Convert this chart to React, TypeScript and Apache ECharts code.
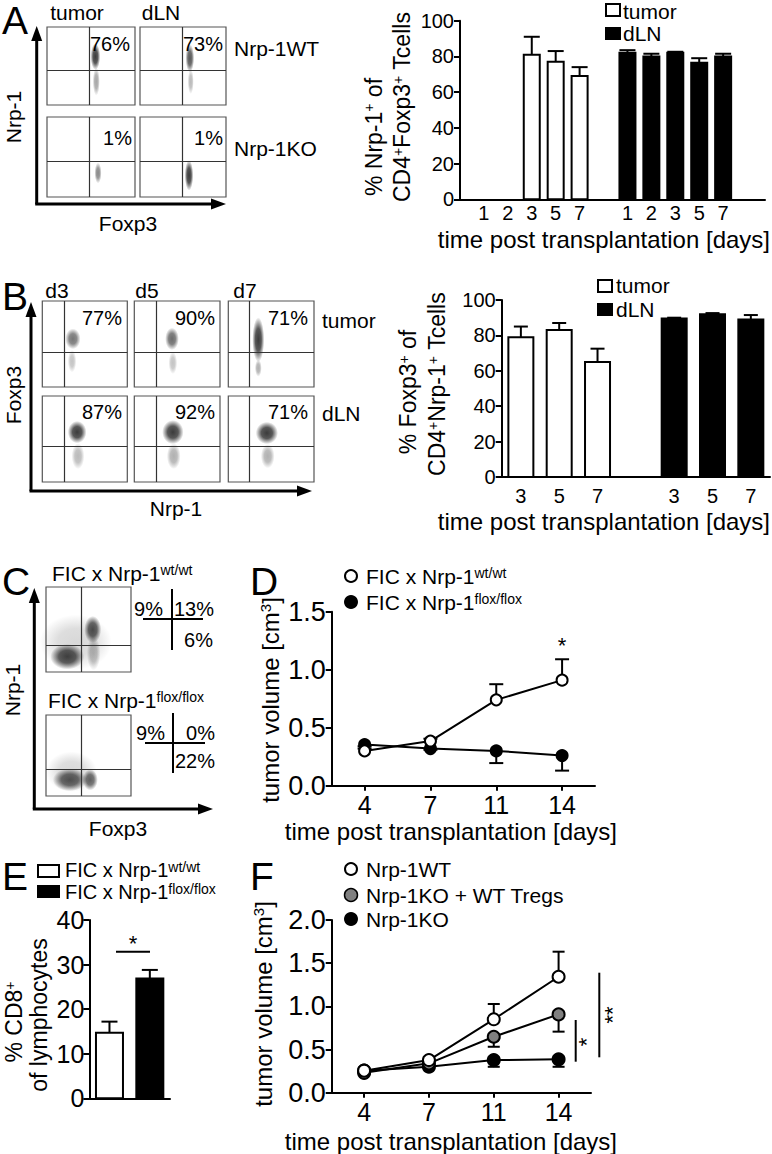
import React, { useEffect, useRef } from 'react';
import * as echarts from 'echarts';

const FONT = '"Liberation Sans", Arial, Helvetica, sans-serif';

// ---------- Panel A data ----------
const A_days = ['1', '2', '3', '5', '7'];
const A_tumor = [null, null, 81, 77, 69];
const A_tumorSem = [null, null, 10, 6, 5];
const A_dLN = [82, 80, 82, 76.5, 80];
const A_dLNSem = [1.5, 1.5, 0.6, 2.5, 1.5];
const A_pct = ['76%', '73%', '1%', '1%'];
const A_gates = [[48, 44], [49, 44], [48, 45], [49, 45]];
// clusters: [x, y, width, height, density] in plot units (0-100)
const A_clusters = [
  [[55, 62, 11, 34, 1.0], [56, 30, 8, 36, 0.45]],
  [[58, 60, 10, 36, 0.85], [59, 30, 7, 32, 0.35]],
  [[58, 30, 8, 26, 0.6]],
  [[57, 27, 10, 38, 1.0]],
];

// ---------- Panel B data ----------
const B_days = ['3', '5', '7'];
const B_tumor = [79, 83, 65];
const B_tumorSem = [6, 4, 7.5];
const B_dLN = [89.5, 92, 89];
const B_dLNSem = [0.5, 0.6, 2.5];
const B_pct = ['77%', '90%', '71%', '87%', '92%', '71%'];
const B_gates = [[26, 40], [26, 40], [25, 40], [26, 41], [26, 41], [25, 41]];
const B_clusters = [
  [[36, 56, 18, 24, 0.7], [35, 30, 10, 26, 0.3]],
  [[44, 56, 16, 26, 0.75], [45, 28, 10, 26, 0.3]],
  [[35, 55, 14, 52, 1.0], [35, 22, 8, 20, 0.4]],
  [[41, 58, 22, 26, 1.0], [42, 30, 15, 30, 0.35]],
  [[45, 58, 25, 28, 1.0], [46, 30, 16, 30, 0.4]],
  [[45, 57, 26, 26, 1.0], [46, 30, 16, 28, 0.4]],
];

// ---------- Panel C data ----------
const C_gates = [[41, 32], [41, 33]];
const C_clusters = [
  [[35, 35, 85, 65, 0.2], [25, 18, 40, 30, 0.95], [55, 50, 20, 32, 0.9], [56, 22, 16, 40, 0.35]],
  [[30, 30, 60, 50, 0.2], [28, 20, 40, 28, 0.85], [52, 20, 18, 26, 0.8]],
];
const C_quadWT = ['9%', '13%', '6%'];
const C_quadFlox = ['9%', '0%', '22%'];

// ---------- Panel D data ----------
const D_days = ['4', '7', '11', '14'];
const D_wt = [0.3, 0.385, 0.74, 0.91];
const D_wtSem = [0.02, 0.02, 0.135, 0.18];
const D_flox = [0.355, 0.32, 0.3, 0.26];
const D_floxSem = [0.015, 0.01, 0.105, 0.13];

// ---------- Panel E data ----------
const E_groups = ['FIC x Nrp-1 wt/wt', 'FIC x Nrp-1 flox/flox'];
const E_values = [14.7, 26.9];
const E_sem = [2.5, 1.9];

// ---------- Panel F data ----------
const F_days = ['4', '7', '11', '14'];
const F_wt = [0.255, 0.378, 0.85, 1.343];
const F_wtSem = [0.02, 0.03, 0.177, 0.29];
const F_koT = [0.23, 0.34, 0.648, 0.907];
const F_koTSem = [0.02, 0.02, 0.116, 0.2];
const F_ko = [0.255, 0.3, 0.378, 0.386];
const F_koSem = [0.01, 0.01, 0.078, 0.086];

// ---------- layout ----------
const A_boxes = [[47, 27, 88, 78], [140, 27, 86, 78], [47, 117, 88, 80], [140, 117, 86, 80]];
const B_boxes = [
  [42.3, 301, 85, 86], [134.3, 301, 85.7, 86], [228.3, 301, 85.7, 86],
  [42.3, 396, 85, 86], [134.3, 396, 85.7, 86], [228.3, 396, 85.7, 86],
];
const C_boxes = [[46, 587, 85, 85], [46, 715, 85, 81]];

const BLACK = '#000';
const axLine = { show: true, onZero: false, lineStyle: { color: BLACK, width: 2 } };
const axTick = { show: true, length: 6, inside: false, lineStyle: { color: BLACK, width: 2 } };

function radial(a: number) {
  return {
    type: 'radial', x: 0.5, y: 0.5, r: 0.5,
    colorStops: [
      { offset: 0, color: `rgba(10,10,10,${a})` },
      { offset: 0.5, color: `rgba(10,10,10,${a * 0.85})` },
      { offset: 1, color: 'rgba(10,10,10,0)' },
    ],
  };
}

function txt(x: number, y: number, text: string, o: any = {}) {
  const size = o.size ?? 21;
  const align = o.align ?? 'center';
  const valign = o.valign ?? 'middle';
  const style: any = {
    text, fill: BLACK, fontSize: size, fontFamily: FONT,
    textAlign: align, align, textVerticalAlign: valign, verticalAlign: valign,
  };
  if (o.rich) {
    const sub = o.sup ?? Math.round(size * 0.62);
    style.rich = {
      n: { fontSize: size, fontFamily: FONT, fill: BLACK },
      s: { fontSize: sub, fontFamily: FONT, fill: BLACK, verticalAlign: 'top' },
    };
  }
  return { type: 'text', x, y, rotation: o.rot ? Math.PI / 2 : 0, silent: true, z: 20, style };
}

function gline(x1: number, y1: number, x2: number, y2: number, w = 2) {
  return { type: 'line', silent: true, z: 20, shape: { x1, y1, x2, y2 }, style: { stroke: BLACK, lineWidth: w } };
}

function arrowV(x: number, yBottom: number, yTip: number) {
  return [
    gline(x, yBottom, x, yTip + 12, 3),
    { type: 'polygon', silent: true, z: 20, shape: { points: [[x, yTip], [x - 5.5, yTip + 15], [x + 5.5, yTip + 15]] }, style: { fill: BLACK } },
  ];
}
function arrowH(y: number, xLeft: number, xTip: number) {
  return [
    gline(xLeft - 1.5, y, xTip - 12, y, 3),
    { type: 'polygon', silent: true, z: 20, shape: { points: [[xTip, y], [xTip - 15, y - 5.5], [xTip - 15, y + 5.5]] }, style: { fill: BLACK } },
  ];
}

function barSeries(gi: number, data: any[], fill: string, w: number, cap: number) {
  return {
    type: 'custom', xAxisIndex: gi, yAxisIndex: gi, data, silent: true, z: 3,
    renderItem: (_p: any, api: any) => {
      const x = api.value(0), v = api.value(1), e = api.value(2);
      const base = api.coord([x, 0]);
      const top = api.coord([x, v]);
      const et = api.coord([x, v + e]);
      return {
        type: 'group',
        children: [
          { type: 'line', shape: { x1: top[0], y1: top[1], x2: et[0], y2: et[1] }, style: { stroke: BLACK, lineWidth: 2 } },
          { type: 'line', shape: { x1: et[0] - cap, y1: et[1], x2: et[0] + cap, y2: et[1] }, style: { stroke: BLACK, lineWidth: 2 } },
          { type: 'rect', shape: { x: base[0] - w / 2, y: top[1], width: w, height: base[1] - top[1] }, style: { fill, stroke: BLACK, lineWidth: 2 } },
        ],
      };
    },
  };
}

function errSeries(gi: number, vals: number[], sems: number[], dir: number, cap: number) {
  return {
    type: 'custom', xAxisIndex: gi, yAxisIndex: gi, silent: true, z: 2,
    data: vals.map((v, i) => [i, v, sems[i]]),
    renderItem: (_p: any, api: any) => {
      const x = api.value(0), v = api.value(1), e = api.value(2);
      const p0 = api.coord([x, v]);
      const p1 = api.coord([x, v + dir * e]);
      return {
        type: 'group',
        children: [
          { type: 'line', shape: { x1: p0[0], y1: p0[1], x2: p1[0], y2: p1[1] }, style: { stroke: BLACK, lineWidth: 2 } },
          { type: 'line', shape: { x1: p1[0] - cap, y1: p1[1], x2: p1[0] + cap, y2: p1[1] }, style: { stroke: BLACK, lineWidth: 2 } },
        ],
      };
    },
  };
}

function lineSeries(gi: number, vals: number[], fill: string, size: number) {
  return {
    type: 'line', xAxisIndex: gi, yAxisIndex: gi, data: vals, silent: true, z: 4,
    symbol: 'circle', symbolSize: size, showSymbol: true,
    itemStyle: { color: fill, borderColor: BLACK, borderWidth: 2, opacity: 1 },
    lineStyle: { color: BLACK, width: 2 },
  };
}

export default function App() {
  const ref = useRef<HTMLDivElement>(null);
  useEffect(() => {
    if (!ref.current) return;
    const chart = echarts.init(ref.current, undefined, { renderer: 'svg', width: 772, height: 1154 });

    const grids: any[] = [];
    const xAxes: any[] = [];
    const yAxes: any[] = [];
    const series: any[] = [];

    const flowBoxes = [...A_boxes, ...B_boxes, ...C_boxes];
    const flowClusters = [...A_clusters, ...B_clusters, ...C_clusters];
    const flowGates = [...A_gates, ...B_gates, ...C_gates];
    flowBoxes.forEach((b, i) => {
      grids.push({ left: b[0], top: b[1], width: b[2], height: b[3], show: true, borderColor: '#555', borderWidth: 1.2, backgroundColor: 'rgba(0,0,0,0)' });
      xAxes.push({ gridIndex: i, type: 'value', min: 0, max: 100, show: false });
      yAxes.push({ gridIndex: i, type: 'value', min: 0, max: 100, show: false });
      series.push({
        type: 'scatter', xAxisIndex: i, yAxisIndex: i, silent: true, symbol: 'circle',
        data: flowClusters[i].map((c) => ({
          value: [c[0], c[1]],
          symbolSize: [c[2] * b[2] / 100, c[3] * b[3] / 100],
          itemStyle: { color: radial(c[4]) },
        })),
        markLine: {
          silent: true, symbol: 'none', label: { show: false },
          lineStyle: { color: '#333', width: 1.2, type: 'solid' },
          data: [{ xAxis: flowGates[i][0] }, { yAxis: flowGates[i][1] }],
        },
      });
    });

    // Panel A bar chart
    const gA = flowBoxes.length;
    const A_slotLabel: Record<number, string> = {};
    A_days.forEach((d, i) => { A_slotLabel[i + 1] = d; A_slotLabel[i + 7] = d; });
    grids.push({ left: 460, top: 20.7, width: 305, height: 178.6 });
    xAxes.push({
      gridIndex: gA, type: 'value', min: 0, max: 12.75, interval: 1, axisLine: axLine, axisTick: { show: false },
      splitLine: { show: false },
      axisLabel: { fontSize: 20, color: BLACK, fontFamily: FONT, margin: 4, showMaxLabel: false, showMinLabel: true, formatter: (v: number) => A_slotLabel[v] ?? '' },
    });
    yAxes.push({
      gridIndex: gA, type: 'value', min: 0, max: 100, interval: 20, axisLine: axLine, axisTick: axTick,
      splitLine: { show: false }, axisLabel: { fontSize: 20, color: BLACK, fontFamily: FONT, margin: 6 },
    });
    series.push(barSeries(gA, A_days.map((_, i) => [i + 1, A_tumor[i], A_tumorSem[i]]).filter((r) => r[1] != null), '#fff', 16, 8));
    series.push(barSeries(gA, A_days.map((_, i) => [i + 7, A_dLN[i], A_dLNSem[i]]), '#000', 16, 8));

    // Panel B bar chart
    const gB = gA + 1;
    const B_cats = [...B_days, '', ...B_days];
    grids.push({ left: 501.7, top: 300, width: 268.3, height: 177 });
    xAxes.push({
      gridIndex: gB, type: 'category', data: B_cats, axisLine: axLine, axisTick: { show: false },
      axisLabel: { fontSize: 20, color: BLACK, fontFamily: FONT, margin: 9, interval: 0 },
    });
    yAxes.push({
      gridIndex: gB, type: 'value', min: 0, max: 100, interval: 20, axisLine: axLine, axisTick: axTick,
      splitLine: { show: false }, axisLabel: { fontSize: 20, color: BLACK, fontFamily: FONT, margin: 6 },
    });
    series.push(barSeries(gB, B_days.map((_, i) => [i, B_tumor[i], B_tumorSem[i]]), '#fff', 25, 7));
    series.push(barSeries(gB, B_days.map((_, i) => [i + 4, B_dLN[i], B_dLNSem[i]]), '#000', 25, 7));

    // Panel D
    const gD = gB + 1;
    grids.push({ left: 331.7, top: 611.7, width: 263.3, height: 174 });
    xAxes.push({
      gridIndex: gD, type: 'category', data: D_days, axisLine: axLine,
      axisTick: { show: true, alignWithLabel: true, length: 5, lineStyle: { color: BLACK, width: 2 } },
      axisLabel: { fontSize: 25, color: BLACK, fontFamily: FONT, margin: 7 },
    });
    yAxes.push({
      gridIndex: gD, type: 'value', min: 0, max: 1.5, interval: 0.5, axisLine: axLine, axisTick: axTick,
      splitLine: { show: false }, axisLabel: { fontSize: 27, color: BLACK, fontFamily: FONT, margin: 6, formatter: (v: number) => v.toFixed(1) },
    });
    series.push(errSeries(gD, D_wt, D_wtSem, 1, 7));
    series.push(errSeries(gD, D_flox, D_floxSem, -1, 7));
    series.push(lineSeries(gD, D_flox, '#000', 11));
    series.push(lineSeries(gD, D_wt, '#fff', 11));

    // Panel E
    const gE = gD + 1;
    grids.push({ left: 89.3, top: 920, width: 80.7, height: 178.3 });
    xAxes.push({ gridIndex: gE, type: 'category', data: E_groups, axisLine: axLine, axisTick: { show: false }, axisLabel: { show: false } });
    yAxes.push({
      gridIndex: gE, type: 'value', min: 0, max: 40, interval: 10, axisLine: axLine, axisTick: axTick,
      splitLine: { show: false }, axisLabel: { fontSize: 25, color: BLACK, fontFamily: FONT, margin: 5 },
    });
    series.push(barSeries(gE, [[0, E_values[0], E_sem[0]]], '#fff', 27, 8));
    series.push(barSeries(gE, [[1, E_values[1], E_sem[1]]], '#000', 27, 8));

    // Panel F
    const gF = gE + 1;
    grids.push({ left: 331.7, top: 920, width: 259.3, height: 172.7 });
    xAxes.push({
      gridIndex: gF, type: 'category', data: F_days, axisLine: axLine,
      axisTick: { show: true, alignWithLabel: true, length: 5, lineStyle: { color: BLACK, width: 2 } },
      axisLabel: { fontSize: 25, color: BLACK, fontFamily: FONT, margin: 7 },
    });
    yAxes.push({
      gridIndex: gF, type: 'value', min: 0, max: 2, interval: 0.5, axisLine: axLine, axisTick: axTick,
      splitLine: { show: false }, axisLabel: { fontSize: 27, color: BLACK, fontFamily: FONT, margin: 6, formatter: (v: number) => v.toFixed(1) },
    });
    series.push(errSeries(gF, F_wt, F_wtSem, 1, 6));
    series.push(errSeries(gF, F_koT, F_koTSem, -1, 6));
    series.push(errSeries(gF, F_ko, F_koSem, -1, 6));
    series.push(lineSeries(gF, F_ko, '#000', 12));
    series.push(lineSeries(gF, F_koT, '#808080', 12));
    series.push(lineSeries(gF, F_wt, '#fff', 12));

    // ---------- graphic texts ----------
    const g: any[] = [];
    // panel letters
    [['A', 2, 20], ['B', 2, 296], ['C', 2, 581], ['D', 250, 581], ['E', 2, 876], ['F', 250, 876]].forEach((l: any) =>
      g.push(txt(l[1], l[2], l[0], { size: 39, align: 'left' })));

    // Panel A flow
    g.push(txt(77, 12, 'tumor'), txt(161, 12, 'dLN'));
    const A_pctPos = [[130, 44], [223, 44], [132, 138], [223, 138]];
    A_pct.forEach((p, i) => g.push(txt(A_pctPos[i][0], A_pctPos[i][1], p, { size: 20, align: 'right' })));
    g.push(txt(234, 48, 'Nrp-1WT', { align: 'left' }), txt(234, 148, 'Nrp-1KO', { align: 'left' }));
    g.push(txt(13, 117, 'Nrp-1', { rot: true }), txt(128, 223, 'Foxp3'));
    g.push(...arrowV(36.7, 204, 26), ...arrowH(204, 36.7, 226));

    // Panel A bar texts
    g.push(txt(373.5, 137, '{n|% Nrp-1}{s|+}{n| of}', { rich: true, rot: true, size: 23 }));
    g.push(txt(402, 107, '{n|CD4}{s|+}{n|Foxp3}{s|+}{n| Tcells}', { rich: true, rot: true, size: 23 }));
    g.push(txt(770, 239, 'time post transplantation [days]', { size: 24, align: 'right' }));
    g.push({ type: 'rect', silent: true, z: 20, shape: { x: 606, y: 4, width: 14, height: 12 }, style: { fill: '#fff', stroke: BLACK, lineWidth: 2 } });
    g.push({ type: 'rect', silent: true, z: 20, shape: { x: 605, y: 27, width: 16, height: 13 }, style: { fill: BLACK } });
    g.push(txt(623, 11, 'tumor', { align: 'left' }), txt(623, 33, 'dLN', { align: 'left' }));

    // Panel B flow
    g.push(txt(57, 290, 'd3'), txt(147, 290, 'd5'), txt(245, 290, 'd7'));
    const B_pctX = [122, 215, 308];
    B_pct.forEach((p, i) => g.push(txt(B_pctX[i % 3], i < 3 ? 318 : 412, p, { size: 20, align: 'right' })));
    g.push(txt(322, 320, 'tumor', { align: 'left' }), txt(322, 413, 'dLN', { align: 'left' }));
    g.push(txt(13, 395, 'Foxp3', { rot: true }), txt(176, 508, 'Nrp-1'));
    g.push(...arrowV(31, 491, 302), ...arrowH(491, 31, 312));

    // Panel B bar texts
    g.push(txt(408, 392, '{n|% Foxp3}{s|+}{n| of}', { rich: true, rot: true, size: 23 }));
    g.push(txt(437, 384, '{n|CD4}{s|+}{n|Nrp-1}{s|+}{n| Tcells}', { rich: true, rot: true, size: 23 }));
    g.push(txt(770, 521, 'time post transplantation [days]', { size: 24, align: 'right' }));
    g.push({ type: 'rect', silent: true, z: 20, shape: { x: 598, y: 280, width: 14, height: 12 }, style: { fill: '#fff', stroke: BLACK, lineWidth: 2 } });
    g.push({ type: 'rect', silent: true, z: 20, shape: { x: 597, y: 303, width: 16, height: 13 }, style: { fill: BLACK } });
    g.push(txt(616, 285, 'tumor', { align: 'left' }), txt(616, 309, 'dLN', { align: 'left' }));

    // Panel C
    g.push(txt(52, 573, '{n|FIC x Nrp-1}{s|wt/wt}', { rich: true, align: 'left', size: 21, sup: 14 }));
    g.push(txt(48, 700, '{n|FIC x Nrp-1}{s|flox/flox}', { rich: true, align: 'left', size: 21, sup: 14 }));
    g.push(gline(172, 589, 172, 650), gline(143, 619, 203, 619));
    g.push(txt(163, 609, C_quadWT[0], { size: 20, align: 'right' }), txt(174, 609, C_quadWT[1], { size: 20, align: 'left' }), txt(213, 640, C_quadWT[2], { size: 20, align: 'right' }));
    g.push(gline(173, 713, 173, 773), gline(145, 743, 205, 743));
    g.push(txt(165, 733, C_quadFlox[0], { size: 20, align: 'right' }), txt(215, 733, C_quadFlox[1], { size: 20, align: 'right' }), txt(175, 761, C_quadFlox[2], { size: 20, align: 'left' }));
    g.push(...arrowV(34.3, 809, 588), ...arrowH(809, 34.3, 213));
    g.push(txt(118, 828, 'Foxp3'), txt(12, 690, 'Nrp-1', { rot: true }));

    // Panel D texts
    g.push({ type: 'circle', silent: true, z: 20, shape: { cx: 351, cy: 576, r: 6 }, style: { fill: '#fff', stroke: BLACK, lineWidth: 2 } });
    g.push({ type: 'circle', silent: true, z: 20, shape: { cx: 351, cy: 602, r: 7 }, style: { fill: BLACK } });
    g.push(txt(366, 576, '{n|FIC x Nrp-1}{s|wt/wt}', { rich: true, align: 'left', size: 21, sup: 14 }));
    g.push(txt(366, 602, '{n|FIC x Nrp-1}{s|flox/flox}', { rich: true, align: 'left', size: 21, sup: 14 }));
    g.push(txt(562, 645, '*', { size: 22 }));
    g.push(txt(270, 700, '{n|tumor volume [cm}{s|3}{n|]}', { rich: true, rot: true, size: 24, sup: 15 }));
    g.push(txt(617, 831, 'time post transplantation [days]', { size: 24, align: 'right' }));

    // Panel E texts
    g.push({ type: 'rect', silent: true, z: 20, shape: { x: 38, y: 865, width: 21, height: 12 }, style: { fill: '#fff', stroke: BLACK, lineWidth: 2 } });
    g.push({ type: 'rect', silent: true, z: 20, shape: { x: 37, y: 885, width: 23, height: 13 }, style: { fill: BLACK } });
    g.push(txt(65, 870, '{n|FIC x Nrp-1}{s|wt/wt}', { rich: true, align: 'left', size: 20, sup: 14 }));
    g.push(txt(65, 892, '{n|FIC x Nrp-1}{s|flox/flox}', { rich: true, align: 'left', size: 20, sup: 14 }));
    g.push(gline(116, 951.7, 150, 951.7), txt(133, 943, '*', { size: 22 }));
    g.push(txt(14, 1022, '{n|% CD8}{s|+}', { rich: true, rot: true, size: 23, sup: 14 }));
    g.push(txt(39, 1015, 'of lymphocytes', { rot: true, size: 23 }));

    // Panel F texts
    g.push({ type: 'circle', silent: true, z: 20, shape: { cx: 351, cy: 869, r: 6 }, style: { fill: '#fff', stroke: BLACK, lineWidth: 2 } });
    g.push({ type: 'circle', silent: true, z: 20, shape: { cx: 351, cy: 895, r: 6.5 }, style: { fill: '#808080', stroke: BLACK, lineWidth: 1.5 } });
    g.push({ type: 'circle', silent: true, z: 20, shape: { cx: 351, cy: 919, r: 7 }, style: { fill: BLACK } });
    g.push(txt(366, 869, 'Nrp-1WT', { align: 'left' }), txt(366, 895, 'Nrp-1KO + WT Tregs', { align: 'left' }), txt(366, 919, 'Nrp-1KO', { align: 'left' }));
    g.push(gline(575.7, 1020, 575.7, 1061.7), txt(586, 1042, '*', { rot: true, size: 22 }));
    g.push(gline(599.3, 972.7, 599.3, 1057.3), txt(612, 1015, '**', { rot: true, size: 22 }));
    g.push(txt(263, 1004, '{n|tumor volume [cm}{s|3}{n|]}', { rich: true, rot: true, size: 24, sup: 15 }));
    g.push(txt(617, 1141, 'time post transplantation [days]', { size: 24, align: 'right' }));

    chart.setOption({
      animation: false,
      backgroundColor: '#fff',
      textStyle: { fontFamily: FONT },
      grid: grids,
      xAxis: xAxes,
      yAxis: yAxes,
      series,
      graphic: { elements: g },
    });
    return () => chart.dispose();
  }, []);
  return <div ref={ref} style={{ position: 'absolute', left: 0, top: 0, width: 772, height: 1154 }} />;
}
